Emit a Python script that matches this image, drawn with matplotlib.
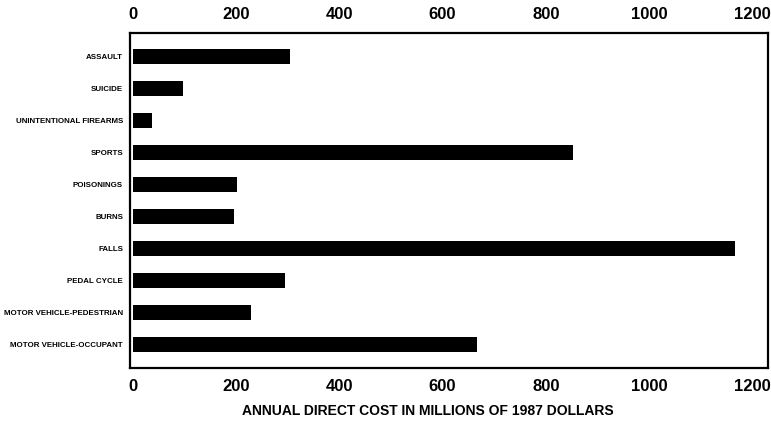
import matplotlib.pyplot as plt

# ---------------------------------------------------
# DATOS
# ---------------------------------------------------

categorias = ['Assault', 'Suicide', 'Unintentional Firearms', 'Sports',
              'Poisonings', 'Burns', 'Falls', 'Pedal Cycle',
              'Motor Vehicle-Pedestrian', 'Motor Vehicle-Occupant']
costo = [304, 97, 37, 853, 202, 196, 1167, 295, 229, 667]
ticks_x = [0, 200, 400, 600, 800, 1000, 1200]

plt.rcParams['font.family'] = ['Liberation Sans', 'DejaVu Sans']

# ---------------------------------------------------
# GRÁFICO
# ---------------------------------------------------

fig = plt.figure(figsize=(7.71, 4.32), dpi=100)
ax = fig.add_axes([0.1686, 0.148, 0.8274, 0.7756])

pos = list(range(len(categorias)))
ax.barh(pos, costo, height=0.47, color='black')

ax.set_xlim(-5, 1230)
ax.set_ylim(9.72, -0.72)
ax.set_yticks(pos)
ax.set_yticklabels([c.upper() for c in categorias], fontsize=5.7, fontweight='bold')
ax.set_xticks(ticks_x)
ax.set_xticklabels([str(t) for t in ticks_x], fontsize=12, fontweight='bold')
ax.tick_params(axis='x', length=0, pad=8, top=True, labeltop=True)
ax.tick_params(axis='y', length=0, pad=5)

for s in ax.spines.values():
    s.set_linewidth(1.6)

ax.set_xlabel('ANNUAL DIRECT COST IN MILLIONS OF 1987 DOLLARS', fontsize=10, fontweight='bold')
ax.xaxis.set_label_coords(0.467, -0.106)

plt.savefig('out.png', facecolor='white')
plt.close()
